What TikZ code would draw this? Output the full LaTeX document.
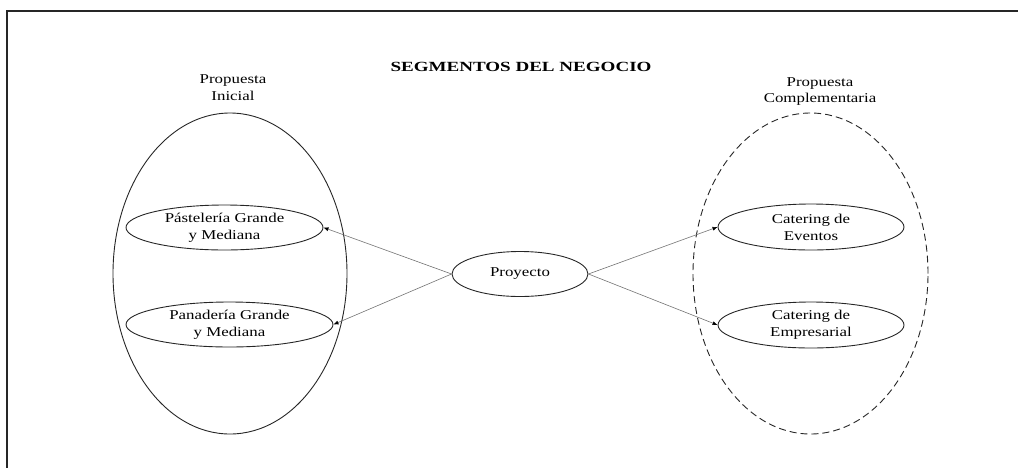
\documentclass[tikz,border=0pt]{standalone}
\usepackage{fontspec}
\setmainfont[FakeStretch=1.25]{Liberation Serif}
\newfontfamily\headfont[FakeStretch=1.36]{Liberation Serif}
\usetikzlibrary{shapes.geometric,arrows.meta}
\begin{document}
\begin{tikzpicture}[x=1pt,y=-1pt,
  lbl/.style={align=center,font=\fontsize{13.5}{16.5}\selectfont,inner sep=0pt},
  group/.style={ellipse,draw=black!85,line width=0.9pt,inner sep=0pt},
  seg/.style={ellipse,draw=black!85,line width=0.9pt,inner sep=0pt,align=center,
              font=\fontsize{13.5}{17}\selectfont},
  link/.style={draw=black!55,line width=0.6pt,-{Latex[length=5pt,width=4pt,color=black]}}]
\useasboundingbox (0,0) rectangle (1018,467);
\clip (0,0) rectangle (1018,467);
% outer frame (only top and left edges fall inside the page)
\draw[line width=1.8pt,black!85] (7,480) -- (7,11) -- (1030,11) -- (1030,480) -- cycle;
% heading
\node[font=\headfont\bfseries\fontsize{14}{17}\selectfont,anchor=base,inner sep=0pt] (title) at (521,71.5) {SEGMENTOS DEL NEGOCIO};
% group captions (base anchor sits on the last line)
\node[lbl,anchor=base] (capL) at (233,100) {Propuesta\\Inicial};
\node[lbl,anchor=base] (capR) at (820,102.5) {Propuesta\\Complementaria};
% grouping ellipses
\node[group,minimum width=234pt,minimum height=321pt] (gL) at (230,273.5) {};
\node[group,dashed,dash pattern=on 7pt off 4pt,minimum width=235pt,minimum height=321pt] (gR) at (810.5,273.5) {};
% segments
\node[seg,minimum width=197pt,minimum height=45pt] (pas) at (224.5,227.5) {Pástelería Grande\\y Mediana};
\node[seg,minimum width=207pt,minimum height=45pt] (pan) at (229.5,324.5) {Panadería Grande\\y Mediana};
\node[seg,minimum width=136pt,minimum height=45pt] (proy) at (520,274) {Proyecto};
\node[seg,minimum width=186pt,minimum height=46pt] (eve) at (811,227) {Catering de\\Eventos};
\node[seg,minimum width=186pt,minimum height=46pt] (emp) at (811,325) {Catering de\\Empresarial};
% connectors
\draw[link] (proy.west) -- (pas.east);
\draw[link] (proy.west) -- (pan.east);
\draw[link] (proy.east) -- (eve.west);
\draw[link] (proy.east) -- (emp.west);
\end{tikzpicture}
\end{document}
